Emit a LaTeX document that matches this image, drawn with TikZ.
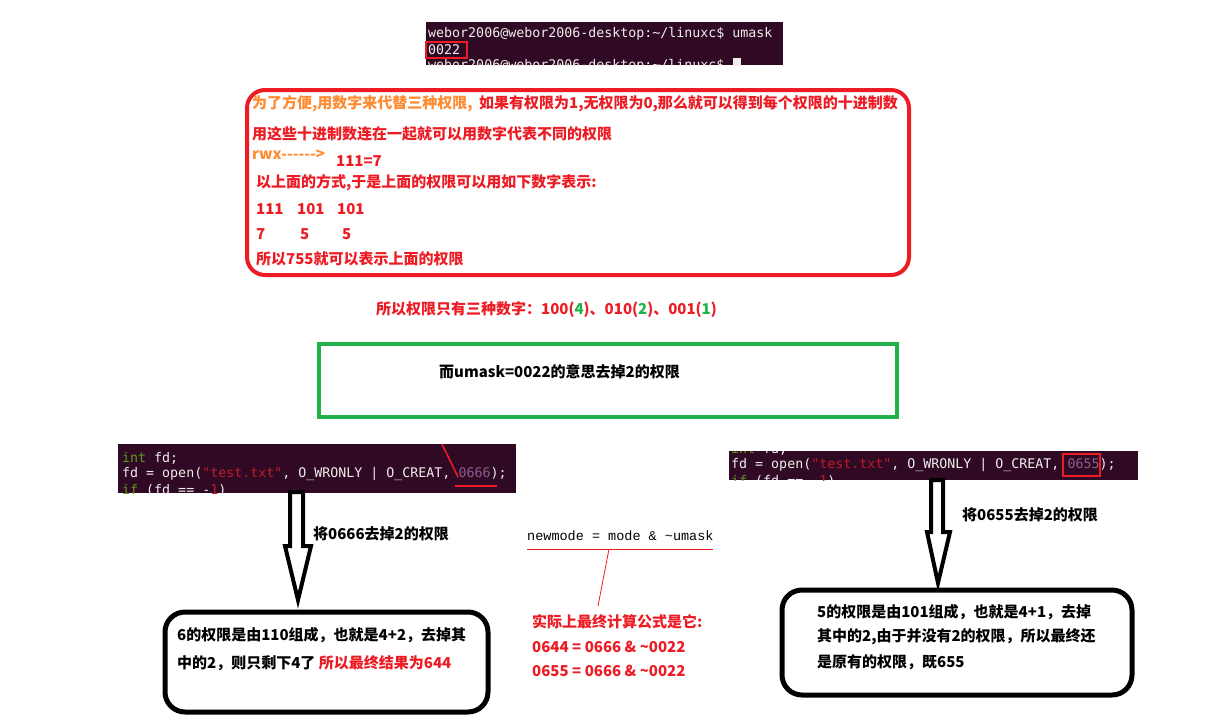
\documentclass[tikz,border=0pt]{standalone}
\usepackage{fontspec}
\setmainfont{Liberation Sans}
\newfontfamily\cjk{Noto Sans CJK SC}
\newfontfamily\mono{DejaVu Sans Mono}
\newfontfamily\lmono{Liberation Mono}
\definecolor{rd}{HTML}{ED1C24}
\definecolor{org}{HTML}{FF8A30}
\definecolor{grn}{HTML}{22B14C}
\definecolor{termbg}{HTML}{300A24}
\definecolor{termfg}{HTML}{EEEEEC}
\definecolor{kw}{HTML}{5E9A18}
\definecolor{str}{HTML}{C01C28}
\definecolor{num}{HTML}{8F5C8F}
\begin{document}
\begin{tikzpicture}[x=1pt,y=-1pt,
  cn/.style={anchor=west, inner sep=0pt, font=\cjk\bfseries\fontsize{15}{18}\selectfont, text=rd},
  cnb/.style={cn, text=black},
  code/.style={anchor=west, inner sep=0pt, font=\mono\fontsize{13.3}{16}\selectfont, text=termfg},
  term/.style={fill=termbg, draw=none, inner sep=0pt, anchor=north west},
  markbox/.style={draw=rd, line width=2pt},
  blockarrow/.style={draw=black, fill=white, line width=4pt, line join=miter},
  roundbox/.style={draw=black, line width=5pt, rounded corners=20pt, anchor=north west, inner sep=0pt}]
\useasboundingbox[fill=white] (0,0) rectangle (1216,718);

% ---------- terminal at top ----------
\node[term, minimum width=357pt, minimum height=43pt] (term) at (426,22) {};
\begin{scope}
\clip (term.north west) rectangle (term.south east);
\node[code] (t1) at (428,34) {webor2006@webor2006-desktop:\textasciitilde/linuxc\$ umask};
\node[code] (t2) at (428,50) {0022};
\node[code] (t3) at (428,66) {webor2006@webor2006-desktop:\textasciitilde/linuxc\$};
\fill[termfg] (733,58) rectangle (741,66);
\end{scope}
\draw[markbox] (426,42) rectangle (467,58);

% ---------- red explanation box ----------
\node[draw=rd, line width=4pt, rounded corners=18pt, minimum width=662pt, minimum height=185pt, anchor=north west, inner sep=0pt] (rbox) at (245,88) {};
\node[cn, text=org] (r1a) at (252,104) {为了方便,用数字来代替三种权限,};
\node[cn] (r1b) at ([xshift=6pt]r1a.east) {如果有权限为1,无权限为0,那么就可以得到每个权限的十进制数};
\node[cn] (r2) at (252,134) {用这些十进制数连在一起就可以用数字代表不同的权限};
\node[cn, text=org] (r3a) at (252,155) {rwx-{}-{}-{}-{}-{}->};
\node[cn] (r3b) at (336,161) {111=7};
\node[cn] (r4) at (256,183) {以上面的方式,于是上面的权限可以用如下数字表示:};
\node[cn] (r5a) at (256,209) {111};
\node[cn] (r5b) at (297,209) {101};
\node[cn] (r5c) at (337,209) {101};
\node[cn] (r6a) at (256,234) {7};
\node[cn] (r6b) at (300,234) {5};
\node[cn] (r6c) at (342,234) {5};
\node[cn] (r7) at (256,259) {所以755就可以表示上面的权限};

% ---------- three numbers ----------
\node[cn] (three) at (376,310) {所以权限只有三种数字：100(\textcolor{grn}{4})、010(\textcolor{grn}{2})、001(\textcolor{grn}{1})};

% ---------- green box ----------
\node[draw=grn, line width=4pt, minimum width=578pt, minimum height=73pt, anchor=north west, inner sep=0pt] (gbox) at (317,342) {};
\node[cnb] (gtext) at (439,372) {而umask=0022的意思去掉2的权限};

% ---------- left code ----------
\node[term, minimum width=398pt, minimum height=49pt] (codeL) at (118,444) {};
\begin{scope}
\clip (codeL.north west) rectangle (codeL.south east);
\node[code] (cl1) at (122,458) {\textcolor{kw}{int} fd;};
\node[code] (cl2) at (122,474) {fd = open(\textcolor{str}{"test.txt"}, O\_WRONLY | O\_CREAT, \textcolor{num}{0666});};
\node[code] (cl3) at (122,490) {\textcolor{kw}{if} (fd == -\textcolor{str}{1})};
\end{scope}
\coordinate (pa) at (442,444);
\coordinate (pb) at (458,477);
\coordinate (ua) at (455,486);
\coordinate (ub) at (497,486);
\draw[rd, line width=1.5pt] (pa) -- (pb);
\draw[rd, line width=2pt] (ua) -- (ub);

% left block arrow
\draw[blockarrow] (290,492) -- (303,492) -- (303,546) -- (311,546) -- (298,600) -- (285,546) -- (290,546) -- cycle;
\node[cnb] (lbl0666) at (313,534) {将0666去掉2的权限};

% ---------- right code ----------
\node[term, minimum width=409pt, minimum height=29pt] (codeR) at (729,451) {};
\begin{scope}
\clip (codeR.north west) rectangle (codeR.south east);
\node[code] (cr1) at (731,449) {\textcolor{kw}{int} fd;};
\node[code] (cr2) at (731,465) {fd = open(\textcolor{str}{"test.txt"}, O\_WRONLY | O\_CREAT, \textcolor{num}{0655});};
\node[code] (cr3) at (731,481) {\textcolor{kw}{if} (fd == -\textcolor{str}{1})};
\end{scope}
\draw[markbox] (1063,454) rectangle (1100,476);

% right block arrow
\draw[blockarrow] (931,480) -- (943,480) -- (943,532) -- (950,532) -- (938,583) -- (927,532) -- (931,532) -- cycle;
\node[cnb] (lbl0655) at (962,515) {将0655去掉2的权限};

% ---------- middle formula ----------
\node[anchor=west, inner sep=0pt, font=\lmono\fontsize{13.5}{16}\selectfont] (formula) at (527,536) {newmode = mode \& \textasciitilde umask};
\coordinate (fa) at (527,549);
\coordinate (fb) at (713,549);
\coordinate (fc) at (609,549);
\draw[rd, line width=0.8pt] (fa) -- (fb);
\node[cn] (real) at (532,622) {实际上最终计算公式是它:};
\coordinate (fd) at (598,606);
\draw[rd, line width=0.8pt] (fc) -- (fd);
\node[cn] (eq1) at (532,647) {0644 = 0666 \& \textasciitilde0022};
\node[cn] (eq2) at (532,671) {0655 = 0666 \& \textasciitilde0022};

% ---------- bottom left box ----------
\node[roundbox, minimum width=323pt, minimum height=100pt] (bl) at (162.5,609.5) {};
\node[cnb] (bl1) at (177,635) {6的权限是由110组成，也就是4+2，去掉其};
\node[cnb] (bl2) at (177,663) {中的2，则只剩下4了 \textcolor{rd}{所以最终结果为644}};

% ---------- bottom right box ----------
\node[roundbox, minimum width=350pt, minimum height=105pt] (br) at (779.5,587.5) {};
\node[cnb] (br1) at (817,612) {5的权限是由101组成，也就是4+1，去掉};
\node[cnb] (br2) at (817,637) {其中的2,由于并没有2的权限，所以最终还};
\node[cnb] (br3) at (817,662) {是原有的权限，既655};
\end{tikzpicture}
\end{document}
